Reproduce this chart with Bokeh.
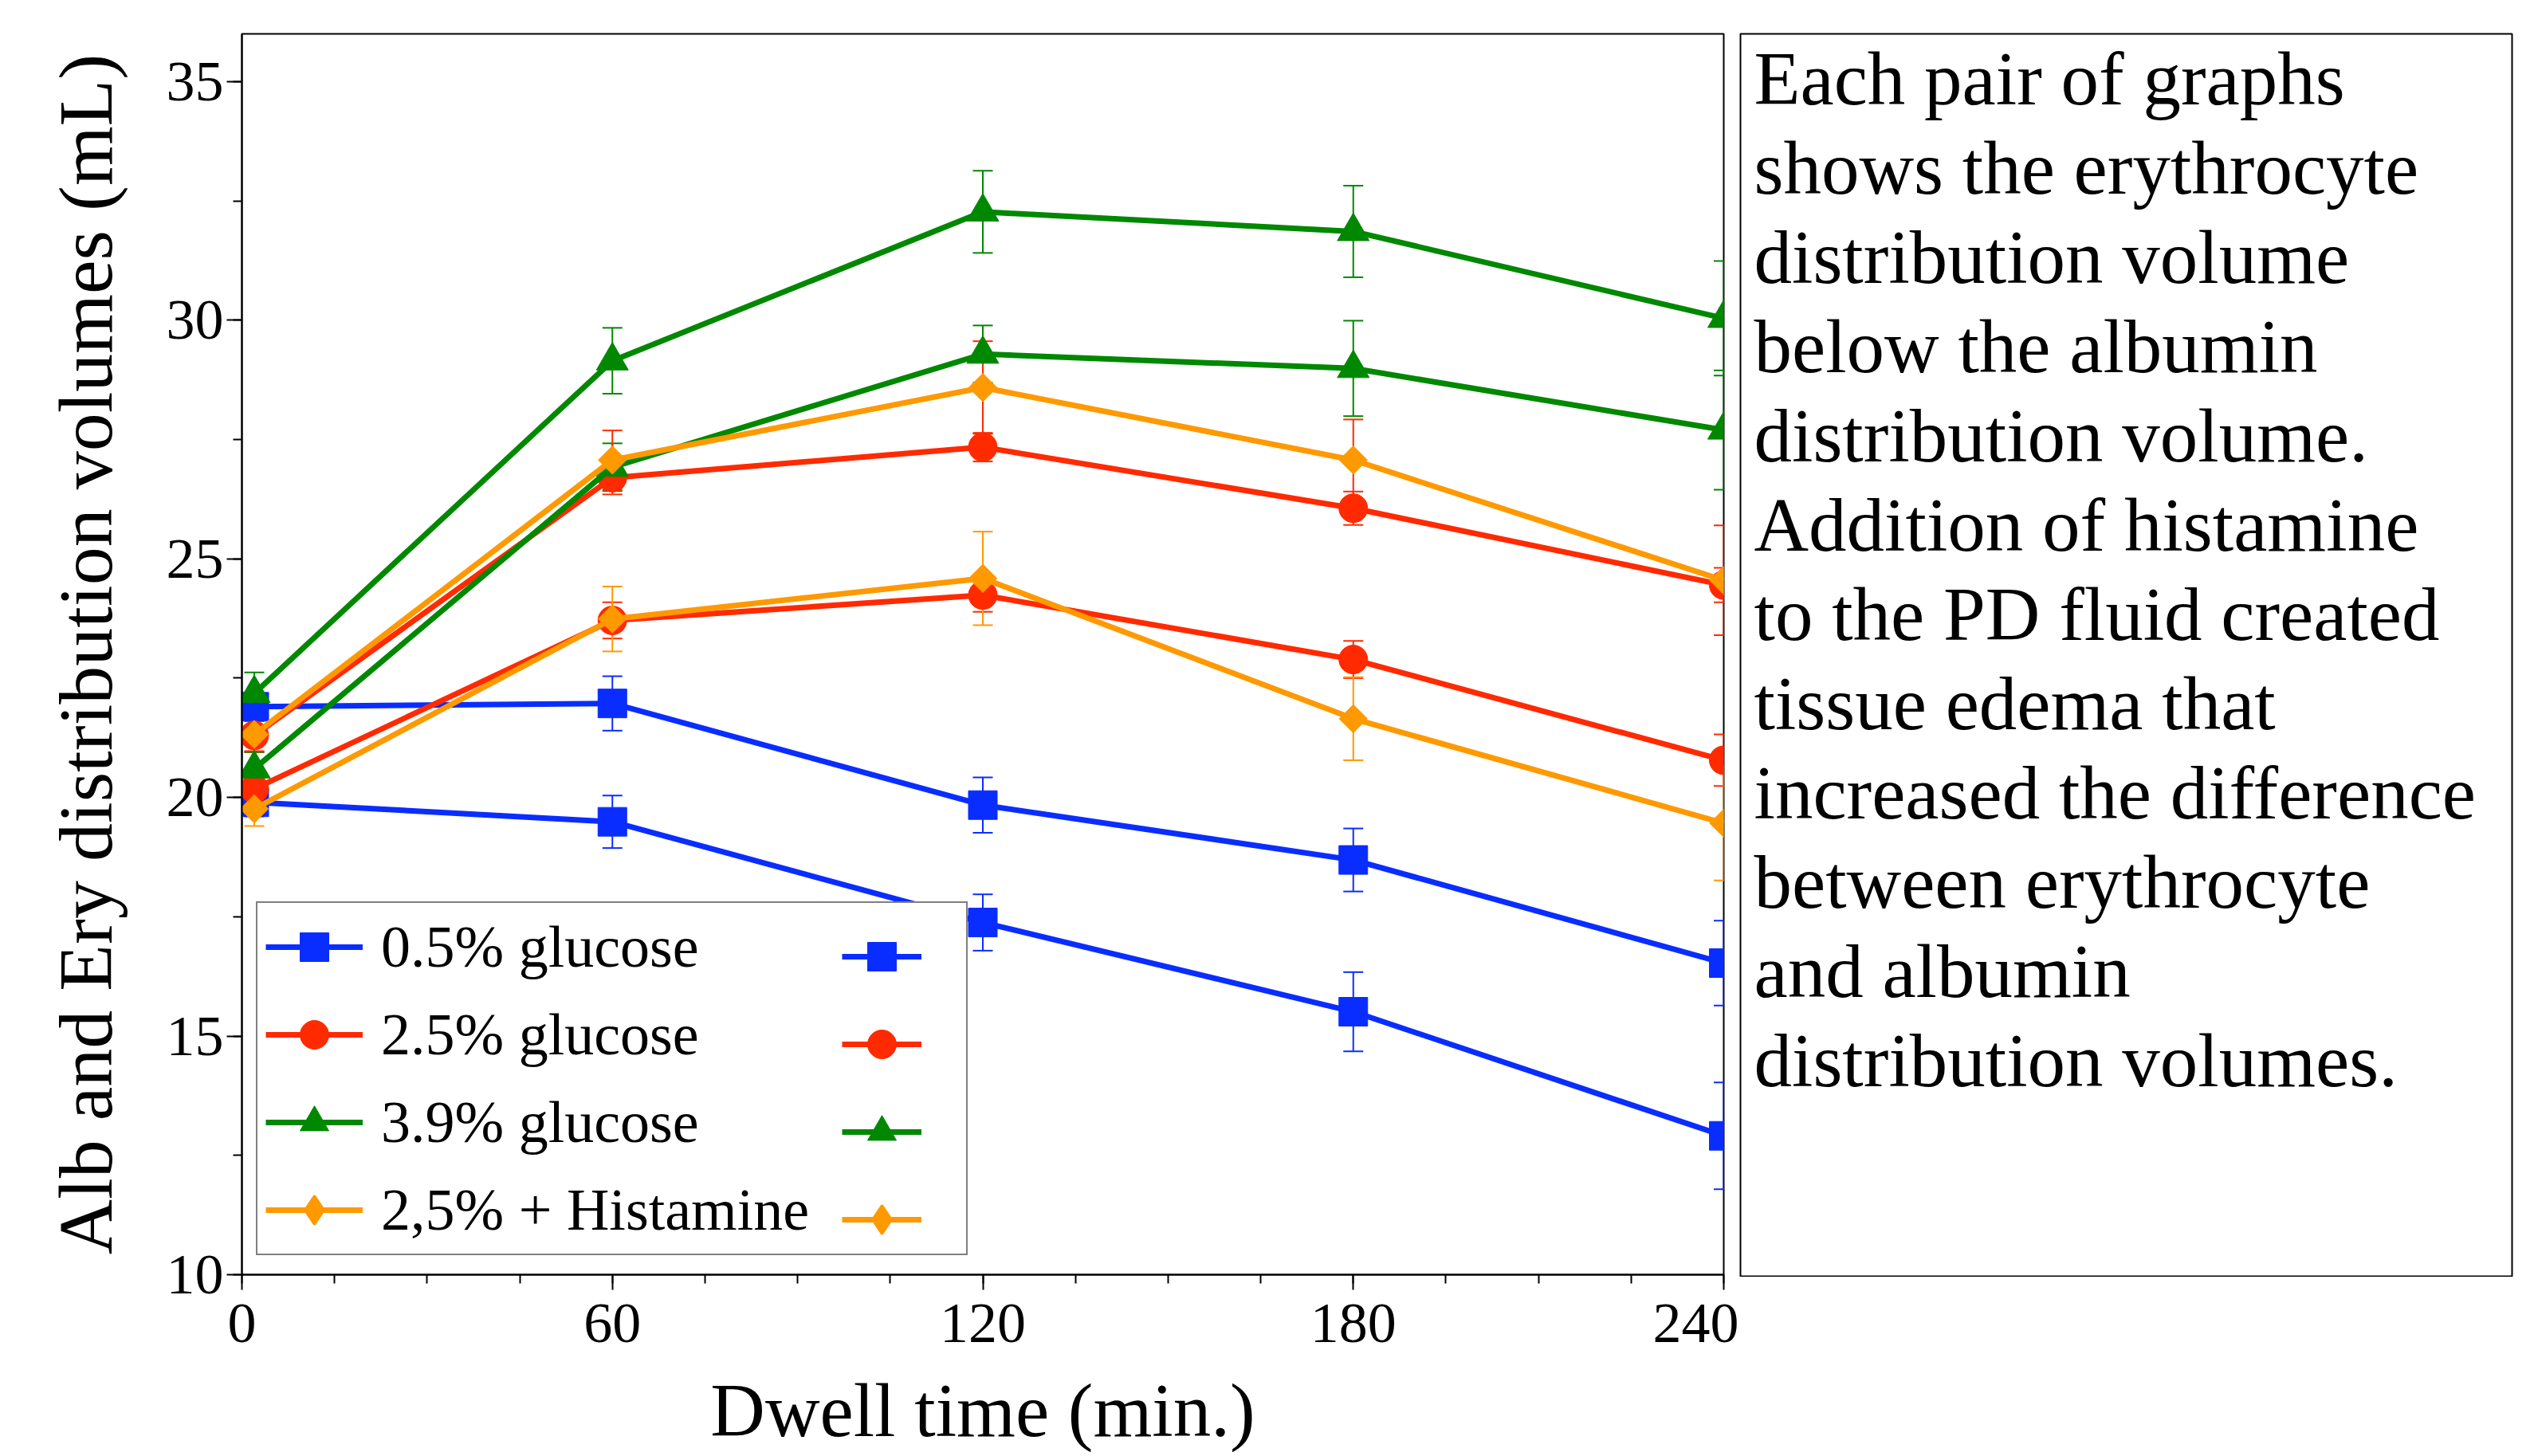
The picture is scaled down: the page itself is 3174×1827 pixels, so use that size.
import math
from bokeh.plotting import figure
from bokeh.models import (ColumnDataSource, Whisker, TeeHead, Legend, LegendItem,
                          Range1d, SingleIntervalTicker)
from bokeh.layouts import row
from bokeh.core.properties import value
from bokeh.embed import file_html
from bokeh.resources import INLINE

# ---------------- data ----------------
time_min = [2, 60, 120, 180, 240]
x_ticks_interval = 60
y_ticks_interval = 5

series_names = ["0.5% glucose", "2.5% glucose", "3.9% glucose", "2,5% + Histamine"]

glc05_alb = [21.90, 21.97, 19.84, 18.69, 16.53]
glc05_alb_err = [0.30, 0.57, 0.58, 0.66, 0.89]
glc05_ery = [19.90, 19.49, 17.38, 15.51, 12.91]
glc05_ery_err = [0.30, 0.55, 0.59, 0.83, 1.12]

glc25_alb = [21.30, 26.70, 27.34, 26.06, 24.45]
glc25_alb_err = [0.35, 0.35, 0.30, 0.35, 0.36]
glc25_ery = [20.18, 23.71, 24.24, 22.89, 20.78]
glc25_ery_err = [0.30, 0.38, 0.35, 0.39, 0.54]

glc39_alb = [22.18, 29.15, 32.27, 31.86, 30.04]
glc39_alb_err = [0.44, 0.69, 0.86, 0.96, 1.20]
glc39_ery = [20.60, 26.92, 29.29, 28.99, 27.70]
glc39_ery_err = [0.35, 0.50, 0.60, 1.00, 1.25]

hist_alb = [21.32, 27.07, 28.59, 27.07, 24.55]
hist_alb_err = [0.35, 0.62, 0.97, 0.85, 1.15]
hist_ery = [19.76, 23.74, 24.59, 21.65, 19.46]
hist_ery_err = [0.36, 0.68, 0.98, 0.87, 1.20]

note_lines = [
    "Each pair of graphs",
    "shows the erythrocyte",
    "distribution volume",
    "below the albumin",
    "distribution volume.",
    "Addition of histamine",
    "to the PD fluid created",
    "tissue edema that",
    "increased the difference",
    "between erythrocyte",
    "and albumin",
    "distribution volumes.",
]

# ---------------- styles ----------------
FONT = "Liberation Serif"
BLUE, RED, GREEN, ORANGE = "#0A2DFF", "#FF2A00", "#008800", "#FF9900"

styles = [
    dict(color=BLUE, marker="square", size=36, angle=0.0, legend_marker=None, err_alb=BLUE, err_ery=BLUE),
    dict(color=RED, marker="circle", size=36, angle=0.0, legend_marker=None, err_alb=RED, err_ery=RED),
    dict(color=GREEN, marker="triangle", size=40, angle=0.0, legend_marker=None, err_alb=GREEN, err_ery=GREEN),
    dict(color=ORANGE, marker="square", size=25, angle=math.pi / 4, legend_marker="diamond",
         err_alb=RED, err_ery=ORANGE),
]

series = [
    (glc05_alb, glc05_alb_err, glc05_ery, glc05_ery_err),
    (glc25_alb, glc25_alb_err, glc25_ery, glc25_ery_err),
    (glc39_alb, glc39_alb_err, glc39_ery, glc39_ery_err),
    (hist_alb, hist_alb_err, hist_ery, hist_ery_err),
]

# ---------------- main plot ----------------
p = figure(frame_width=1859, frame_height=1557,
           min_border_left=303, min_border_right=19, min_border_top=42, min_border_bottom=225,
           x_range=Range1d(0, 240), y_range=Range1d(10, 36),
           output_backend="svg", toolbar_location=None)
p.background_fill_color = "white"
p.border_fill_color = "white"
p.outline_line_color = "black"
p.outline_line_width = 2
p.xgrid.visible = False
p.ygrid.visible = False

p.xaxis.ticker = SingleIntervalTicker(interval=x_ticks_interval, num_minor_ticks=4)
p.yaxis.ticker = SingleIntervalTicker(interval=y_ticks_interval, num_minor_ticks=2)

for ax in (p.xaxis[0], p.yaxis[0]):
    ax.axis_line_width = 2
    ax.axis_line_color = "black"
    ax.major_tick_line_width = 2
    ax.minor_tick_line_width = 2
    ax.major_tick_line_color = "black"
    ax.minor_tick_line_color = "black"
    ax.major_tick_in = 0
    ax.major_tick_out = 19
    ax.minor_tick_in = 0
    ax.minor_tick_out = 11
    ax.major_label_text_font = FONT
    ax.major_label_text_font_size = "72px"
    ax.major_label_text_color = "black"
    ax.axis_label_text_font = FONT
    ax.axis_label_text_font_style = "normal"
    ax.axis_label_text_color = "black"

p.xaxis.axis_label = "Dwell time (min.)"
p.xaxis.axis_label_text_font_size = "95px"
p.xaxis.major_label_standoff = 18
p.xaxis.axis_label_standoff = 30

p.yaxis.axis_label = "Alb and Ery distribution volumes (mL)"
p.yaxis.axis_label_text_font_size = "96px"
p.yaxis.major_label_standoff = 4
p.yaxis.axis_label_standoff = 45

left_items, right_items = [], []
for name, st, (alb, alb_e, ery, ery_e) in zip(series_names, styles, series):
    made = []
    for vals, errs, ecol in ((alb, alb_e, st["err_alb"]), (ery, ery_e, st["err_ery"])):
        src = ColumnDataSource(dict(
            t=time_min, v=vals,
            lo=[v - e for v, e in zip(vals, errs)],
            hi=[v + e for v, e in zip(vals, errs)],
        ))
        w = Whisker(base="t", upper="hi", lower="lo", source=src, dimension="height",
                    line_color=ecol, line_width=2,
                    upper_head=TeeHead(size=25, line_color=ecol, line_width=2),
                    lower_head=TeeHead(size=25, line_color=ecol, line_width=2))
        p.add_layout(w)
        ln = p.line("t", "v", source=src, line_color=st["color"], line_width=7)
        sc = p.scatter("t", "v", source=src, marker=st["marker"], size=st["size"],
                       angle=st["angle"], fill_color=st["color"], line_color=st["color"])
        if st["legend_marker"] is not None:
            # legend-only marker (legend ignores marker rotation); placed off-frame
            sc = p.scatter(x=[-1000], y=[-1000], marker=st["legend_marker"], size=42,
                           fill_color=st["color"], line_color=st["color"], line_width=3)
        made.append((ln, sc))
    left_items.append(LegendItem(label=value(name), renderers=list(made[0])))
    right_items.append(LegendItem(label=value(" "), renderers=list(made[1])))

leg1 = Legend(items=left_items, location=(18, 24), margin=0, padding=10,
              glyph_width=122, glyph_height=90, label_height=90, label_width=724,
              label_standoff=23, spacing=20,
              label_text_font=FONT, label_text_font_size="74px", label_text_color="black",
              border_line_color="black", border_line_width=2,
              background_fill_color="white", background_fill_alpha=1.0)
leg2 = Legend(items=right_items, location=(753, 24), margin=0, padding=10,
              glyph_width=100, glyph_height=90, label_height=90, label_width=0,
              label_standoff=0, spacing=20,
              label_text_font=FONT, label_text_font_size="74px",
              border_line_color=None, background_fill_alpha=0.0)
p.add_layout(leg1)
p.add_layout(leg2)

# ---------------- note panel ----------------
p2 = figure(frame_width=968, frame_height=1560,
            min_border_left=2, min_border_right=2, min_border_top=42, min_border_bottom=0,
            x_range=Range1d(0, 968), y_range=Range1d(0, 1560),
            x_axis_location=None, y_axis_location=None,
            output_backend="svg", toolbar_location=None)
p2.xgrid.visible = False
p2.ygrid.visible = False
p2.outline_line_color = "black"
p2.outline_line_width = 2
p2.background_fill_color = "white"
p2.border_fill_color = "white"

line_pitch = 112
first_base = 1504
p2.text(x=[17] * len(note_lines),
        y=[first_base - i * line_pitch for i in range(len(note_lines))],
        text=note_lines, text_font=value(FONT), text_font_size="95px",
        text_color="black", text_baseline="alphabetic", text_align="left")

layout = row(p, p2, spacing=0)
open("out.html", "w").write(file_html(layout, INLINE))
